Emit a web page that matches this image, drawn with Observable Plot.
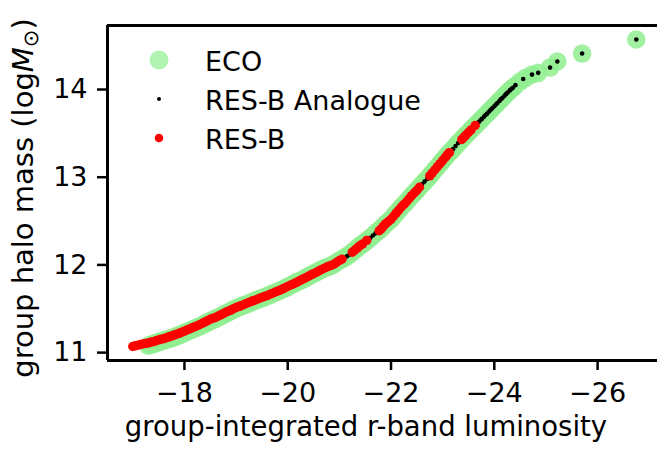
<!DOCTYPE html>
<html>
<head>
<meta charset="utf-8">
<script src="https://cdn.jsdelivr.net/npm/d3@7"></script>
<script src="https://cdn.jsdelivr.net/npm/@observablehq/plot@0.6"></script>
<style>
  html, body { margin: 0; padding: 0; background: #fff; }
  #chart svg { display: block; }
</style>
</head>
<body>
<div id="chart"></div>
<script>
// ECO groups: group-integrated r-band luminosity vs group halo mass
const lumECO = [-17.3,-17.35,-17.4,-17.45,-17.5,-17.55,-17.6,-17.65,-17.7,-17.75,-17.8,-17.85,-17.9,-17.95,-18.0,-18.05,-18.1,-18.15,-18.2,-18.25,-18.3,-18.35,-18.4,-18.45,-18.5,-18.55,-18.6,-18.65,-18.7,-18.75,-18.8,-18.85,-18.9,-18.95,-19.0,-19.05,-19.1,-19.15,-19.2,-19.25,-19.3,-19.35,-19.4,-19.45,-19.5,-19.55,-19.6,-19.65,-19.7,-19.75,-19.8,-19.85,-19.9,-19.95,-20.0,-20.05,-20.1,-20.15,-20.2,-20.25,-20.3,-20.35,-20.4,-20.45,-20.5,-20.55,-20.6,-20.65,-20.7,-20.75,-20.8,-20.85,-20.9,-20.95,-21.0,-21.05,-21.1,-21.15,-21.2,-21.25,-21.3,-21.35,-21.4,-21.45,-21.5,-21.55,-21.6,-21.65,-21.7,-21.75,-21.8,-21.85,-21.9,-21.95,-22.0,-22.05,-22.1,-22.15,-22.2,-22.25,-22.3,-22.35,-22.4,-22.45,-22.5,-22.55,-22.6,-22.65,-22.7,-22.75,-22.8,-22.85,-22.9,-22.95,-23.0,-23.05,-23.1,-23.15,-23.2,-23.25,-23.3,-23.35,-23.4,-23.45,-23.5,-23.55,-23.6,-23.65,-23.7,-23.75,-23.8,-23.85,-23.9,-23.95,-24.0,-24.05,-24.1,-24.15,-24.2,-24.25,-24.3,-24.35,-24.4,-24.5,-24.6,-24.73,-24.85,-25.08,-25.22,-25.70,-26.75];
const massECO = [11.08,11.09,11.10,11.11,11.12,11.13,11.14,11.148,11.155,11.165,11.175,11.188,11.20,11.213,11.225,11.238,11.25,11.263,11.275,11.288,11.30,11.315,11.33,11.345,11.36,11.373,11.385,11.40,11.415,11.43,11.445,11.46,11.475,11.49,11.505,11.518,11.53,11.54,11.55,11.563,11.575,11.588,11.60,11.61,11.62,11.633,11.645,11.658,11.67,11.683,11.695,11.708,11.72,11.735,11.75,11.765,11.78,11.795,11.81,11.823,11.835,11.853,11.87,11.885,11.90,11.915,11.93,11.945,11.96,11.97,11.98,11.995,12.01,12.03,12.05,12.065,12.08,12.10,12.12,12.145,12.17,12.195,12.22,12.24,12.26,12.285,12.31,12.335,12.36,12.385,12.41,12.44,12.47,12.495,12.52,12.555,12.59,12.625,12.66,12.69,12.72,12.755,12.79,12.82,12.85,12.885,12.92,12.95,12.98,13.015,13.05,13.085,13.12,13.155,13.19,13.225,13.26,13.29,13.32,13.355,13.39,13.42,13.45,13.48,13.51,13.54,13.57,13.60,13.63,13.66,13.69,13.72,13.75,13.78,13.81,13.84,13.87,13.90,13.93,13.96,13.99,14.015,14.04,14.09,14.13,14.17,14.19,14.25,14.32,14.41,14.57];

// RES-B analogue groups
const lumAnalogue = [-17.3,-17.4,-17.5,-17.6,-17.7,-17.8,-17.9,-18.0,-18.1,-18.2,-18.3,-18.4,-18.5,-18.6,-18.7,-18.8,-18.9,-19.0,-19.1,-19.2,-19.3,-19.4,-19.5,-19.6,-19.7,-19.8,-19.9,-20.0,-20.1,-20.2,-20.3,-20.4,-20.5,-20.6,-20.7,-20.8,-20.9,-21.0,-21.1,-21.15,-21.2,-21.3,-21.4,-21.5,-21.6,-21.65,-21.7,-21.8,-21.9,-22.0,-22.1,-22.2,-22.3,-22.4,-22.5,-22.6,-22.65,-22.7,-22.8,-22.9,-23.0,-23.1,-23.2,-23.25,-23.3,-23.4,-23.5,-23.6,-23.65,-23.7,-23.73,-23.76,-23.8,-23.83,-23.86,-23.9,-23.93,-23.96,-24.0,-24.03,-24.06,-24.1,-24.13,-24.16,-24.2,-24.23,-24.26,-24.3,-24.33,-24.36,-24.41,-24.56,-24.73,-24.85,-25.08,-25.22,-25.70,-26.75];
const massAnalogue = [11.11,11.125,11.145,11.16,11.18,11.20,11.22,11.245,11.27,11.295,11.32,11.35,11.38,11.40,11.43,11.46,11.485,11.515,11.535,11.56,11.585,11.605,11.63,11.65,11.675,11.70,11.725,11.755,11.78,11.81,11.84,11.87,11.90,11.93,11.96,11.985,12.01,12.05,12.08,12.10,12.12,12.17,12.22,12.26,12.31,12.335,12.36,12.41,12.47,12.52,12.59,12.66,12.72,12.79,12.85,12.92,12.95,12.98,13.05,13.12,13.19,13.26,13.32,13.355,13.39,13.45,13.51,13.57,13.60,13.63,13.65,13.665,13.69,13.71,13.725,13.75,13.77,13.785,13.81,13.83,13.845,13.87,13.89,13.905,13.93,13.95,13.965,13.99,14.005,14.02,14.05,14.12,14.17,14.19,14.25,14.32,14.41,14.57];

// RES-B groups
const lumRESB = [-17.0,-17.05,-17.1,-17.15,-17.2,-17.25,-17.3,-17.35,-17.4,-17.45,-17.5,-17.55,-17.6,-17.65,-17.7,-17.75,-17.8,-17.85,-17.9,-17.95,-18.0,-18.05,-18.1,-18.15,-18.2,-18.25,-18.3,-18.35,-18.4,-18.45,-18.5,-18.55,-18.6,-18.65,-18.7,-18.75,-18.8,-18.85,-18.9,-18.95,-19.0,-19.05,-19.1,-19.15,-19.2,-19.25,-19.3,-19.35,-19.4,-19.45,-19.5,-19.55,-19.6,-19.65,-19.7,-19.75,-19.8,-19.85,-19.9,-19.95,-20.0,-20.05,-20.1,-20.15,-20.2,-20.25,-20.3,-20.35,-20.4,-20.45,-20.5,-20.55,-20.6,-20.65,-20.7,-20.75,-20.8,-20.85,-20.9,-20.95,-21.0,-21.05,-21.25,-21.3,-21.35,-21.4,-21.45,-21.53,-21.77,-21.81,-21.85,-21.9,-21.95,-22.0,-22.05,-22.1,-22.15,-22.2,-22.25,-22.3,-22.35,-22.4,-22.45,-22.5,-22.55,-22.75,-22.8,-22.85,-22.9,-22.95,-23.0,-23.05,-23.09,-23.13,-23.37,-23.41,-23.45,-23.5,-23.55,-23.63];
const massRESB = [11.07,11.078,11.085,11.093,11.10,11.105,11.11,11.118,11.125,11.135,11.145,11.153,11.16,11.17,11.18,11.19,11.20,11.21,11.22,11.233,11.245,11.258,11.27,11.283,11.295,11.308,11.32,11.335,11.35,11.365,11.38,11.39,11.40,11.415,11.43,11.445,11.46,11.473,11.485,11.50,11.515,11.525,11.535,11.548,11.56,11.573,11.585,11.595,11.605,11.618,11.63,11.64,11.65,11.663,11.675,11.688,11.70,11.713,11.725,11.74,11.755,11.768,11.78,11.795,11.81,11.825,11.84,11.855,11.87,11.885,11.90,11.915,11.93,11.945,11.96,11.973,11.985,11.998,12.01,12.03,12.05,12.065,12.145,12.17,12.195,12.22,12.24,12.28,12.39,12.41,12.44,12.47,12.495,12.52,12.555,12.59,12.625,12.66,12.69,12.72,12.755,12.79,12.82,12.85,12.885,13.015,13.05,13.085,13.12,13.155,13.19,13.225,13.255,13.28,13.43,13.455,13.48,13.51,13.54,13.59];

const xTicks = [-18, -20, -22, -24, -26];
const yTicks = [11, 12, 13, 14];
const xDomain = [-16.51, -27.16];
const yDomain = [10.91, 14.73];

const seriesNames = ["ECO", "RES-B Analogue", "RES-B"];
const seriesColors = ["#90ee90", "#000000", "#ff0000"];

const eco = lumECO.map((x, i) => ({x, y: massECO[i]}));
const ana = lumAnalogue.map((x, i) => ({x, y: massAnalogue[i]}));
const resb = lumRESB.map((x, i) => ({x, y: massRESB[i]}));

const FONT = "DejaVu Sans, sans-serif";
const FS = 27;
const minus = d3.format("d");

const svg = Plot.plot({
  width: 657,
  height: 452,
  marginLeft: 107,
  marginRight: 0,
  marginTop: 25,
  marginBottom: 92,
  style: {fontFamily: FONT, fontSize: FS + "px", color: "#000", background: "#fff", overflow: "visible"},
  x: {domain: xDomain, ticks: xTicks},
  y: {domain: yDomain, ticks: yTicks},
  marks: [
    Plot.dot(eco, {x: "x", y: "y", r: 9.3, fill: seriesColors[0], fillOpacity: 0.85, stroke: "none"}),
    Plot.dot(ana, {x: "x", y: "y", r: 2.3, fill: seriesColors[1], stroke: "none"}),
    Plot.dot(resb, {x: "x", y: "y", r: 4.7, fill: seriesColors[2], stroke: "none"}),
    Plot.ruleX([xDomain[0]], {stroke: "#000", strokeWidth: 3}),
    Plot.ruleY([yDomain[0]], {stroke: "#000", strokeWidth: 3, x1: xDomain[0], x2: xDomain[1]}),
    Plot.ruleY([yDomain[1]], {stroke: "#000", strokeWidth: 3, x1: xDomain[0], x2: xDomain[1]}),
    Plot.axisX({ticks: xTicks, tickSize: 10, tickPadding: 12, strokeWidth: 2.5, tickFormat: minus, label: null, fontSize: FS}),
    Plot.axisY({ticks: yTicks, tickSize: 10, tickPadding: 10, strokeWidth: 2.5, tickFormat: minus, label: null, fontSize: FS})
  ]
});

const s = d3.select(svg);

// x label
s.append("text")
  .attr("x", 366).attr("y", 436)
  .attr("text-anchor", "middle")
  .attr("font-family", FONT).attr("font-size", FS + 0.5)
  .attr("fill", "#000")
  .text("group-integrated r-band luminosity");

// y label with italic M and subscript sun
const yl = s.append("text")
  .attr("transform", "translate(33,198) rotate(-90)")
  .attr("text-anchor", "middle")
  .attr("font-family", FONT).attr("font-size", 29)
  .attr("fill", "#000");
yl.append("tspan").text("group halo mass (log");
yl.append("tspan").attr("font-style", "italic").text("M");
yl.append("tspan").attr("font-size", 21).attr("dy", 5).text("\u2299");
yl.append("tspan").attr("dy", -5).text(")");

// legend
const legY = [60, 99, 138];
const legR = [9.5, 2, 4.3];
const legOp = [0.7, 1, 1];
seriesNames.forEach((name, i) => {
  s.append("circle").attr("cx", 159).attr("cy", legY[i]).attr("r", legR[i])
    .attr("fill", seriesColors[i]).attr("fill-opacity", legOp[i]);
  s.append("text").attr("x", 205).attr("y", legY[i] + 1)
    .attr("text-anchor", "start")
    .attr("dominant-baseline", "central")
    .attr("font-family", FONT).attr("font-size", FS)
    .attr("fill", "#000").text(name);
});

document.getElementById("chart").appendChild(svg);
</script>
</body>
</html>
